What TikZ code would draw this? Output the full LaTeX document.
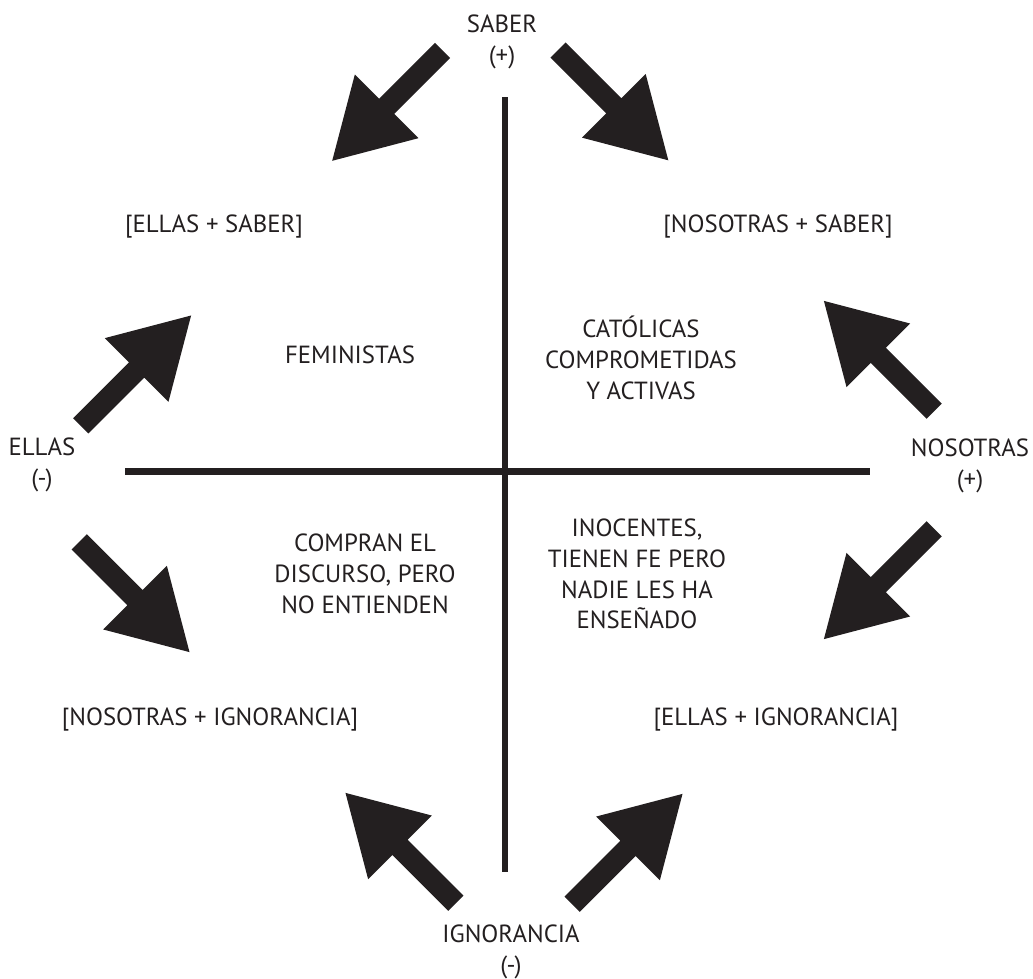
\documentclass[tikz,border=0pt]{standalone}
\usepackage{fontspec}
\setmainfont{PT Sans}
\usepackage{xcolor}
\definecolor{inkblack}{HTML}{231F20}

\tikzset{
  blockarrow/.pic={
    \fill[inkblack] (0,-10.75) -- (79,-10.75) -- (79,-45) -- (156,0)
      -- (79,45) -- (79,10.75) -- (0,10.75) -- cycle;
  }
}

\begin{document}
\begin{tikzpicture}[x=0.5pt, y=-0.5pt,
    lbl/.style={font=\fontsize{12.4}{15.4}\selectfont, text=inkblack, align=center, inner sep=0pt},
    axisline/.style={inkblack, line width=3.3pt}]
  \fill[white] (0,0) rectangle (1033,977);

  % Axes
  \coordinate (vtop) at (505, 97);
  \coordinate (vbot) at (505, 872);
  \coordinate (hleft) at (125, 471.5);
  \coordinate (hright) at (870, 471.5);
  \draw[axisline] (vtop) -- (vbot);
  \draw[axisline] (hleft) -- (hright);

  % Axes labels
  \node[lbl] (saber)      at (502, 42)  {SABER\\(+)};
  \node[lbl] (ellas)      at (42, 465)  {ELLAS\\(-)};
  \node[lbl] (nosotras)   at (970, 466) {NOSOTRAS\\(+)};
  \node[lbl] (ignorancia) at (511, 952) {IGNORANCIA\\(-)};

  % Arrows
  \pic[rotate=225] at (442.5, 50.5)  {blockarrow};
  \pic[rotate=-45] at (558, 50)      {blockarrow};
  \pic[rotate=45]  at (80.8, 425.8)  {blockarrow};
  \pic[rotate=-45] at (79.2, 541.8)  {blockarrow};
  \pic[rotate=135] at (934.2, 411.2) {blockarrow};
  \pic[rotate=225] at (934.2, 528.8) {blockarrow};
  \pic[rotate=135] at (455.8, 903.2) {blockarrow};
  \pic[rotate=45]  at (572.2, 904.2) {blockarrow};

  % Quadrant: Ellas + Saber (top-left)
  \node[lbl] (ellassaber) at (214, 227) {[ELLAS + SABER]};
  \node[lbl] (feministas) at (350, 355) {FEMINISTAS};

  % Quadrant: Nosotras + Saber (top-right)
  \node[lbl] (nossaber)  at (778, 227) {[NOSOTRAS + SABER]};
  \node[lbl] (catolicas) at (641, 358) {CATÓLICAS\\COMPROMETIDAS\\Y ACTIVAS};

  % Quadrant: Nosotras + Ignorancia (bottom-left)
  \node[lbl] (nosignor) at (210, 720) {[NOSOTRAS + IGNORANCIA]};
  \node[lbl] (compran)  at (365, 574) {COMPRAN EL\\DISCURSO, PERO\\NO ENTIENDEN};

  % Quadrant: Ellas + Ignorancia (bottom-right)
  \node[lbl] (ellasignor) at (776, 720) {[ELLAS + IGNORANCIA]};
  \node[lbl] (inocentes)  at (637, 574) {INOCENTES,\\TIENEN FE PERO\\NADIE LES HA\\ENSEÑADO};
\end{tikzpicture}
\end{document}
